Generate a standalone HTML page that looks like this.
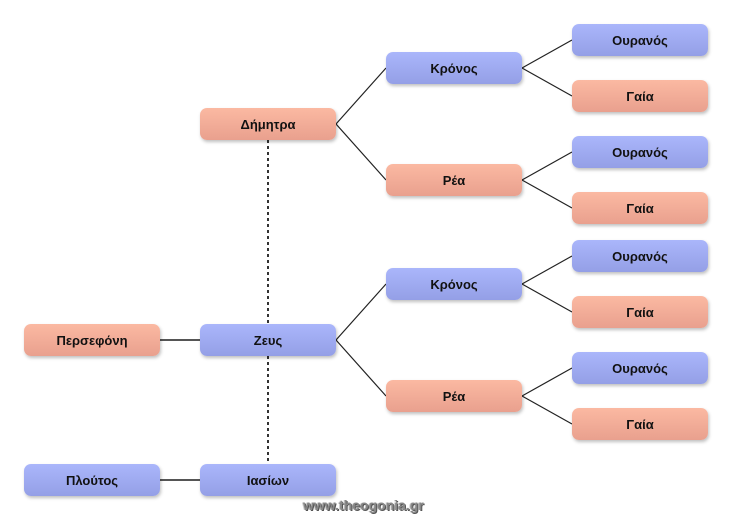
<!DOCTYPE html>
<html><head><meta charset="utf-8"><style>
body{margin:0;width:732px;height:520px;background:#fff;position:relative;overflow:hidden;font-family:"Liberation Sans","DejaVu Sans",sans-serif}
.b{position:absolute;width:136px;height:32px;border-radius:7px;display:flex;align-items:center;justify-content:center;font-size:13px;font-weight:bold;color:#111;box-shadow:1px 2px 3px rgba(0,0,0,0.25)}
.s{background:linear-gradient(#fbb9a2,#e9a08e)}
.u{background:linear-gradient(#aab6fb,#949fe6)}
svg{position:absolute;left:0;top:0}
.w{position:absolute;left:303px;top:497px;font-size:14px;font-weight:bold;color:#888;text-shadow:1px 1px 0 #555,-1px 0 0 #ccc}
</style></head><body>
<svg width="732" height="520">
<g stroke="#222" stroke-width="1.2" fill="none">
<path d="M336 124L386 68M336 124L386 180M336 340L386 284M336 340L386 396"/>
<path d="M522 68L572 40M522 68L572 96M522 180L572 152M522 180L572 208M522 284L572 256M522 284L572 312M522 396L572 368M522 396L572 424"/>
</g>
<g stroke="#555" stroke-width="2">
<path d="M160 340H200M160 480H200"/>
<path d="M268 140V324M268 356V463" stroke-dasharray="3,3" stroke="#333"/>
</g>
</svg>
<div class="b s" style="left:200px;top:108px">Δήμητρα</div>
<div class="b u" style="left:200px;top:324px">Ζευς</div>
<div class="b u" style="left:200px;top:464px">Ιασίων</div>
<div class="b s" style="left:24px;top:324px">Περσεφόνη</div>
<div class="b u" style="left:24px;top:464px">Πλούτος</div>
<div class="b u" style="left:386px;top:52px">Κρόνος</div>
<div class="b s" style="left:386px;top:164px">Ρέα</div>
<div class="b u" style="left:386px;top:268px">Κρόνος</div>
<div class="b s" style="left:386px;top:380px">Ρέα</div>
<div class="b u" style="left:572px;top:24px">Ουρανός</div>
<div class="b s" style="left:572px;top:80px">Γαία</div>
<div class="b u" style="left:572px;top:136px">Ουρανός</div>
<div class="b s" style="left:572px;top:192px">Γαία</div>
<div class="b u" style="left:572px;top:240px">Ουρανός</div>
<div class="b s" style="left:572px;top:296px">Γαία</div>
<div class="b u" style="left:572px;top:352px">Ουρανός</div>
<div class="b s" style="left:572px;top:408px">Γαία</div>
<div class="w">www.theogonia.gr</div>
</body></html>
